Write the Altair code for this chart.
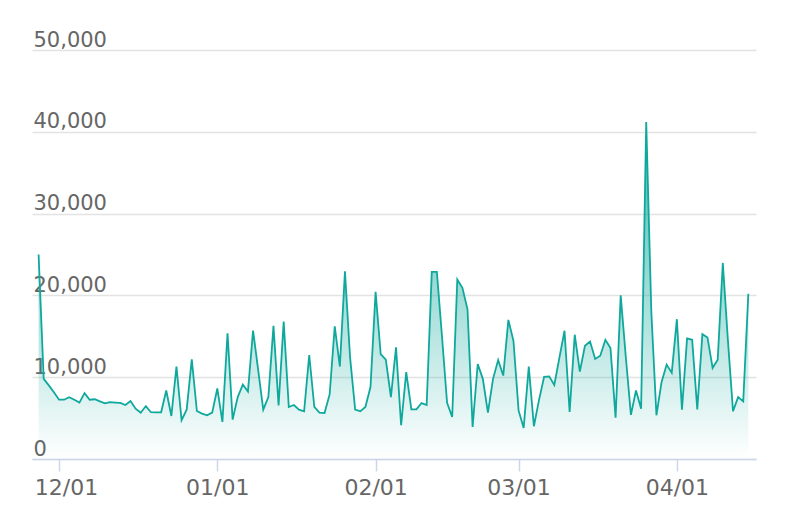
import altair as alt
import pandas as pd

start_date = "2022-11-27"
values = [
    25000, 9800, 9000, 8150, 7250, 7250, 7550, 7250, 6900, 8050,
    7250, 7300, 7050, 6800, 6950, 6900, 6850, 6600, 7080, 6150,
    5650, 6470, 5720, 5710, 5710, 8380, 5260, 11300, 4740, 6030,
    12190, 5870, 5550, 5340, 5670, 8620, 4530, 15380, 4820, 7570,
    9110, 8260, 15710, 10900, 6030, 7570, 16280, 6560, 16800, 6360,
    6600, 6030, 5830, 12710, 6360, 5670, 5630, 7890, 16230, 11300,
    22960, 12430, 6030, 5830, 6360, 8790, 20450, 12830, 12150, 7570,
    13640, 4130, 10610, 6070, 6070, 6840, 6600, 22870, 22870, 15000,
    6880, 5140, 21940, 20930, 18300, 3930, 11620, 9800, 5670, 9800,
    12100, 10200, 17000, 14450, 5940, 3800, 11300, 4000, 7200, 10040,
    10100, 9050, 12400, 15680, 5740, 15190, 10690, 13850, 14370, 12230,
    12630, 14570, 13560, 5060, 20000, 12500, 5400, 8380, 6150, 41200,
    18000, 5340, 9390, 11540, 10530, 17090, 6030, 14740, 14570, 6070,
    15260, 14860, 11130, 12150, 23970, 14500, 5830, 7570, 7040, 20200,
]
y_ticks = [0, 10000, 20000, 30000, 40000, 50000]
x_ticks = [(2022, 12, 1), (2023, 1, 1), (2023, 2, 1), (2023, 3, 1), (2023, 4, 1)]

dates = pd.date_range(start_date, periods=len(values), freq="D").strftime("%Y-%m-%dT00:00:00")
df = pd.DataFrame({"date": list(dates), "value": values})

teal = "#0fa89c"
font = "DejaVu Sans"

x_enc = alt.X(
    "date:T",
    scale=alt.Scale(domain=[
        alt.DateTime(year=2022, month=11, date=25, hours=17),
        alt.DateTime(year=2023, month=4, date=16, hours=12),
    ]),
    axis=alt.Axis(
        title=None,
        values=[alt.DateTime(year=y, month=m, date=d) for (y, m, d) in x_ticks],
        format="%m/%d",
        grid=False,
        domainColor="#ccd6eb",
        domainWidth=1.5,
        tickColor="#ccd6eb",
        tickWidth=1.5,
        tickSize=12,
        labelFont=font,
        labelFontSize=22,
        labelColor="#666666",
        labelPadding=6,
        labelFlush=False,
        labelOverlap=False,
        labelOffset={"condition": {"test": "month(datum.value) == 11", "value": 7}, "value": 0},
    ),
)
y_enc = alt.Y(
    "value:Q",
    scale=alt.Scale(domain=[0, 50000], nice=False),
    axis=alt.Axis(
        title=None,
        values=y_ticks,
        format=",d",
        domain=False,
        ticks=False,
        tickSize=0,
        labelAlign="left",
        labelBaseline="alphabetic",
        labelOffset=-4,
        labelPadding=-1,
        labelFont=font,
        labelFontSize=21,
        labelColor="#666666",
        gridColor="#e3e3e3",
        gridWidth=1.5,
    ),
)

area = alt.Chart(df).mark_area(
    opacity=1,
    color=alt.Gradient(
        gradient="linear",
        stops=[
            alt.GradientStop(color="rgba(15,168,156,0.8)", offset=0),
            alt.GradientStop(color="rgba(15,168,156,0.0)", offset=1),
        ],
        x1=0, x2=0, y1=0, y2=1,
    ),
).encode(x=x_enc, y=y_enc)

line = alt.Chart(df).mark_line(color=teal, strokeWidth=1.8).encode(x=x_enc, y=y_enc)

chart = (
    alt.layer(area, line)
    .properties(
        width=724,
        height=409,
        autosize=alt.AutoSizeParams(type="none"),
        padding={"left": 24, "top": 42, "right": 24, "bottom": 60},
    )
    .configure_view(strokeWidth=0)
)

chart.save("out.html", embed_options={"renderer": "svg", "actions": False})
